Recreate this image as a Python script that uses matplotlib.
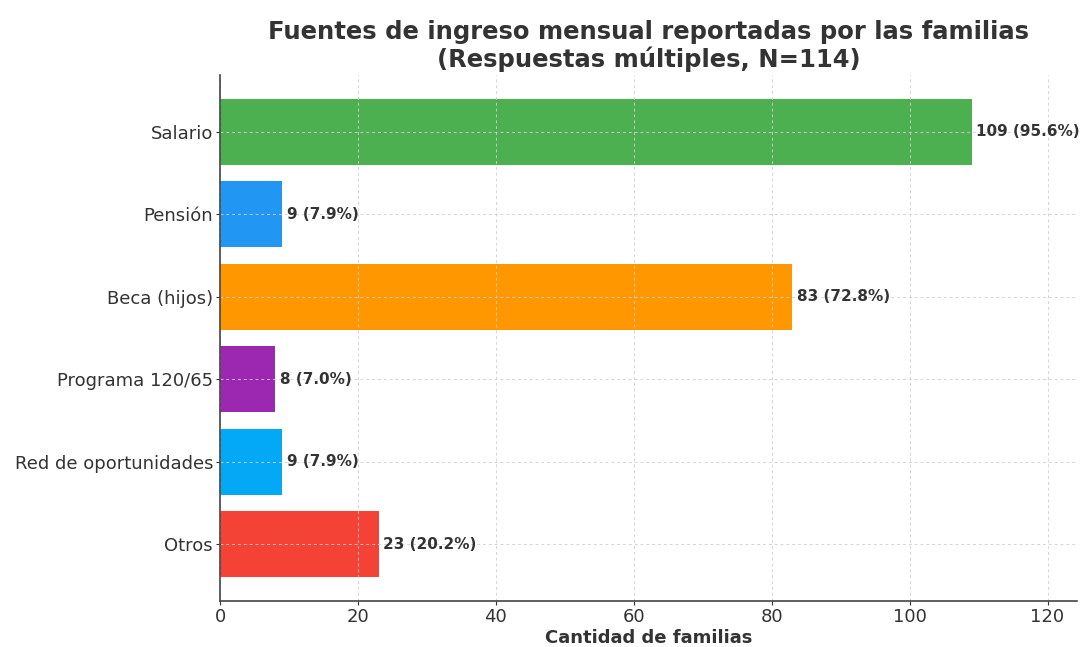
import matplotlib
matplotlib.use("Agg")
import matplotlib.pyplot as plt

categories = ["Salario", "Pensión", "Beca (hijos)", "Programa 120/65", "Red de oportunidades", "Otros"]
counts = [109, 9, 83, 8, 9, 23]
percents = [95.6, 7.9, 72.8, 7.0, 7.9, 20.2]
colors = ["#4CAF50", "#2196F3", "#FF9800", "#9C27B0", "#03A9F4", "#F44336"]
N = 114

fig = plt.figure(figsize=(10.86, 6.47), dpi=100)
ax = fig.add_axes([0.2026, 0.071, 0.789, 0.813])

ypos = list(range(len(categories)))
ax.barh(ypos, counts, color=colors, height=0.8, zorder=2)
ax.invert_yaxis()
ax.set_yticks(ypos)
ax.set_yticklabels(categories, fontsize=13, color="#333333")
ax.set_xlim(0, max(counts) * 1.14)
ax.set_xticks([0, 20, 40, 60, 80, 100, 120])
ax.tick_params(axis="x", labelsize=13, colors="#333333", pad=2, length=3)
ax.tick_params(axis="y", colors="#333333", pad=2, length=3)

for y, c, p in zip(ypos, counts, percents):
    ax.text(c + 0.7, y, f"{c} ({p:.1f}%)", va="center", ha="left",
            fontsize=11, fontweight="bold", color="#333333", zorder=4)

ax.grid(True, linestyle=(0, (3, 3)), color="#d0d0d0", linewidth=0.7, alpha=0.9, zorder=3)
ax.set_axisbelow(False)
for s in ["top", "right"]:
    ax.spines[s].set_visible(False)
for s in ["left", "bottom"]:
    ax.spines[s].set_color("#444444")
    ax.spines[s].set_linewidth(1.2)
    ax.spines[s].set_zorder(5)

ax.set_xlabel("Cantidad de familias", fontsize=13, fontweight="bold", color="#333333", labelpad=2)
ax.set_title(f"Fuentes de ingreso mensual reportadas por las familias\n(Respuestas múltiples, N={N})",
             fontsize=17.5, fontweight="bold", color="#333333", pad=6, linespacing=1.1)

fig.savefig("out.png", dpi=100)
